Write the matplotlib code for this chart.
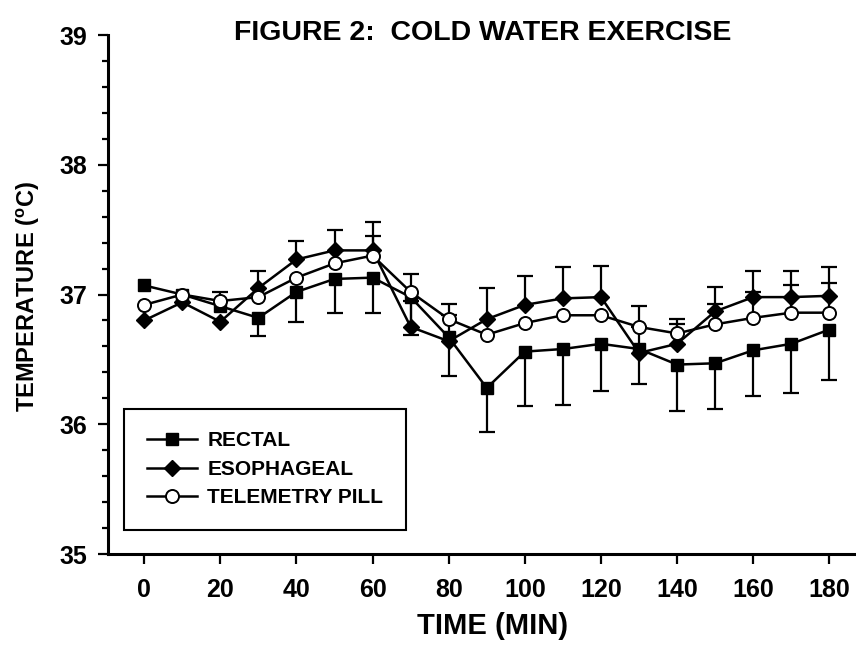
import numpy as np
import matplotlib
matplotlib.use('Agg')
import matplotlib.pyplot as plt
from matplotlib.ticker import MultipleLocator

plt.rcParams['font.family'] = ['Liberation Sans', 'DejaVu Sans']
plt.rcParams['font.weight'] = 'bold'
plt.rcParams['mathtext.fontset'] = 'custom'
plt.rcParams['mathtext.rm'] = 'Liberation Sans:bold'
plt.rcParams['mathtext.bf'] = 'Liberation Sans:bold'

nan = np.nan

#### data
time = [0, 10, 20, 30, 40, 50, 60, 70, 80, 90, 100, 110, 120, 130, 140, 150, 160, 170, 180]

rectal = [37.07, 37.00, 36.91, 36.82, 37.02, 37.12, 37.13, 36.98, 36.67, 36.28,
          36.56, 36.58, 36.62, 36.58, 36.46, 36.47, 36.57, 36.62, 36.73]
rectal_err = [nan, nan, nan, 0.14, 0.23, 0.26, 0.27, 0.29, 0.30, 0.34,
              0.42, 0.43, 0.36, 0.27, 0.36, 0.35, 0.35, 0.38, 0.39]   # drawn downward

esoph = [36.80, 36.94, 36.79, 37.05, 37.27, 37.34, 37.34, 36.75, 36.64, 36.81,
         36.92, 36.97, 36.98, 36.55, 36.62, 36.87, 36.98, 36.98, 36.99]
esoph_err = [nan, nan, nan, 0.13, 0.14, 0.16, 0.22, 0.20, 0.20, 0.24,
             0.22, 0.24, 0.24, 0.20, 0.19, 0.19, 0.20, 0.20, 0.22]   # drawn upward

pill = [36.92, 37.00, 36.95, 36.98, 37.13, 37.24, 37.30, 37.02, 36.81, 36.69,
        36.78, 36.84, 36.84, 36.75, 36.70, 36.77, 36.82, 36.86, 36.86]
pill_err = [nan, nan, 0.07, nan, nan, nan, 0.15, 0.14, 0.12, nan,
            nan, nan, nan, 0.16, 0.07, 0.16, 0.20, 0.21, 0.23]   # drawn upward

fig = plt.figure(figsize=(8.56, 6.67), dpi=100)
ax = fig.add_axes([0.1262, 0.1694, 0.8738, 0.7781])


def draw_err(x, y, err, sign, z):
    x = np.asarray(x, float)
    y = np.asarray(y, float)
    err = np.asarray(err, float)
    ok = ~np.isnan(err)
    end = y + sign * err
    ax.vlines(x[ok], y[ok], end[ok], colors='black', lw=1.6, zorder=z)
    ax.plot(x[ok], end[ok], ls='none', marker='_', ms=12, mew=1.6, color='black', zorder=z)


draw_err(time, rectal, rectal_err, -1, 2)
draw_err(time, esoph, esoph_err, 1, 2)
draw_err(time, pill, pill_err, 1, 2)

ax.plot(time, rectal, color='black', lw=1.8, marker='s', ms=8.5, mfc='black', mec='black',
        label='RECTAL', zorder=3)
ax.plot(time, esoph, color='black', lw=1.8, marker='D', ms=7.8, mfc='black', mec='black',
        label='ESOPHAGEAL', zorder=4)
ax.plot(time, pill, color='black', lw=1.8, marker='o', ms=9.4, mfc='white', mec='black', mew=1.4,
        label='TELEMETRY PILL', zorder=5)

ax.set_xlim(-9.5, 187)
ax.set_ylim(35, 39)
ax.set_xticks([0, 20, 40, 60, 80, 100, 120, 140, 160, 180])
ax.yaxis.set_major_locator(MultipleLocator(1))
ax.yaxis.set_minor_locator(MultipleLocator(0.2))
for s in ['top', 'right']:
    ax.spines[s].set_visible(False)
for s in ['left', 'bottom']:
    ax.spines[s].set_linewidth(2.2)
ax.tick_params(axis='both', which='major', direction='out', length=7, width=1.6, labelsize=18)
ax.tick_params(axis='x', pad=10)
ax.tick_params(axis='y', pad=8)
ax.tick_params(axis='y', which='minor', direction='out', length=4, width=1.6)
for lab in ax.get_xticklabels() + ax.get_yticklabels():
    lab.set_fontweight('bold')

leg = ax.legend(loc='lower left', bbox_to_anchor=(0.0214, 0.046), borderaxespad=0,
                fancybox=False, edgecolor='black', framealpha=1, fontsize=15,
                handlelength=2.4, handletextpad=0.5, labelspacing=0.45, borderpad=1.1)
leg.get_frame().set_linewidth(1.5)
for t in leg.get_texts():
    t.set_fontweight('bold')

fig.text(0.564, 0.951, 'FIGURE 2:  COLD WATER EXERCISE', ha='center', va='center',
         fontsize=20.5, fontweight='bold')
fig.text(0.575, 0.061, 'TIME (MIN)', ha='center', va='center', fontsize=21, fontweight='bold')
fig.text(0.033, 0.556, r'TEMPERATURE ($^{\rm o}$C)', ha='center', va='center', rotation=90,
         fontsize=17, fontweight='bold')

fig.savefig('out.png', dpi=100)
